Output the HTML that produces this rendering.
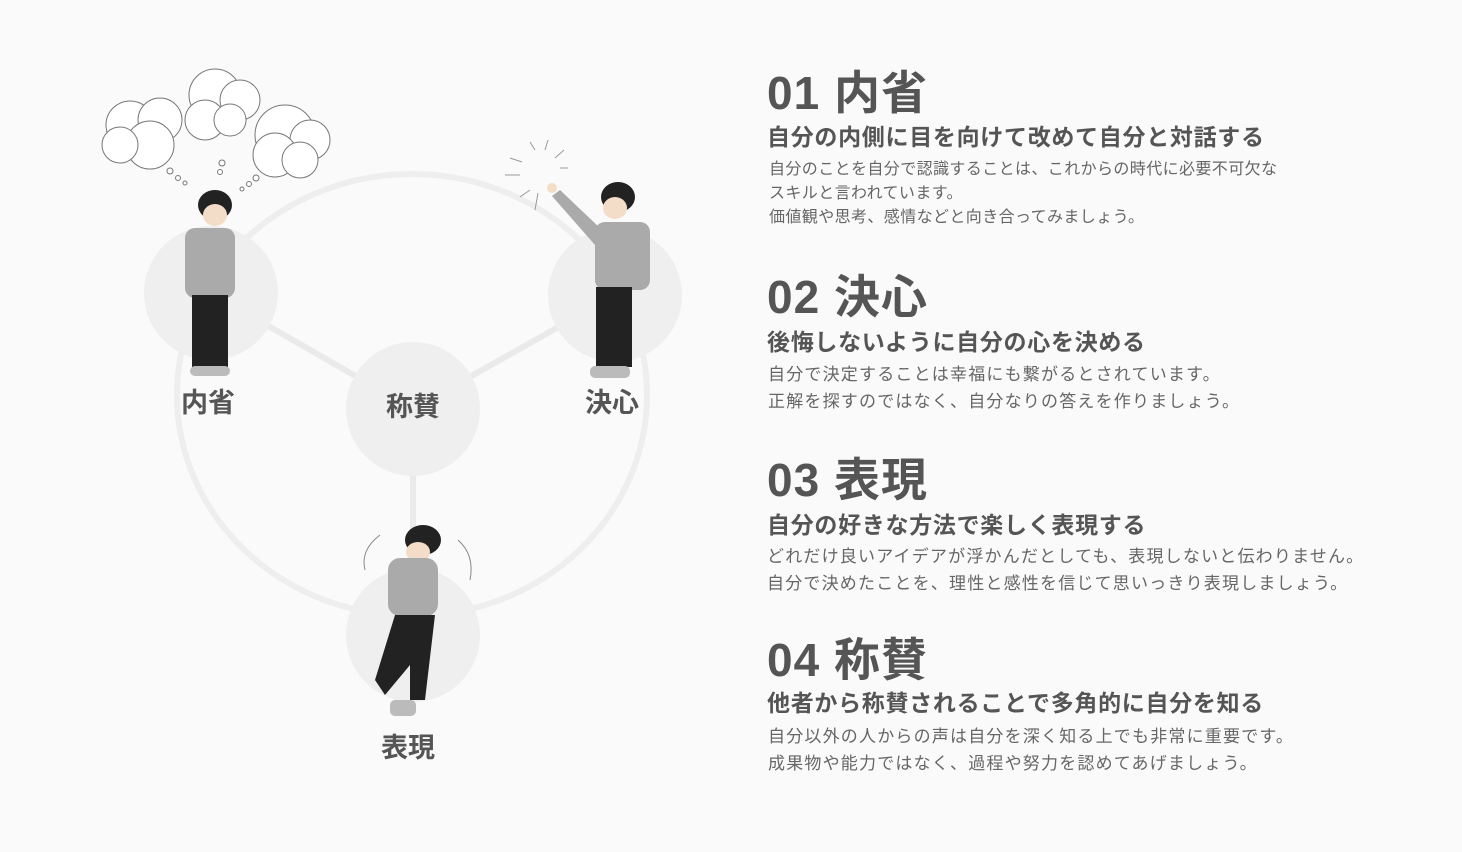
<!DOCTYPE html>
<html><head><meta charset="utf-8"><style>
body{margin:0;width:1462px;height:852px;background:#fafafa;position:relative;overflow:hidden;font-family:"Liberation Sans","Noto Sans CJK JP",sans-serif;color:#555}
.a{position:absolute;white-space:nowrap}
.t{font-size:46px;font-weight:bold;line-height:50px;letter-spacing:1px}
.s{font-size:23px;font-weight:bold;line-height:28px;letter-spacing:0.7px}
.b{font-size:16px;line-height:24px;color:#666;letter-spacing:0.4px}
.b2{font-size:17px;line-height:27px;color:#666;letter-spacing:1.2px}
.l{font-size:27px;font-weight:bold;transform:translateX(-50%);line-height:30px}
</style></head><body>
<svg class="a" style="left:0;top:0" width="720" height="852">
<ellipse cx="412" cy="395" rx="235" ry="221" fill="none" stroke="#eee" stroke-width="6"/>
<g stroke="#eaeaea" stroke-width="6"><line x1="211" y1="293" x2="413" y2="409"/><line x1="615" y1="295" x2="413" y2="409"/><line x1="413" y1="409" x2="413" y2="635"/></g>
<g fill="#efefef"><circle cx="211" cy="293" r="67"/><circle cx="615" cy="295" r="67"/><circle cx="413" cy="409" r="67"/><circle cx="413" cy="635" r="67"/></g>
<g fill="#fff" stroke="#777" stroke-width="1">
<circle cx="130" cy="125" r="24"/><circle cx="160" cy="120" r="22"/><circle cx="150" cy="145" r="24"/><circle cx="120" cy="145" r="18"/>
<circle cx="215" cy="95" r="26"/><circle cx="240" cy="100" r="20"/><circle cx="205" cy="120" r="20"/><circle cx="230" cy="120" r="16"/>
<circle cx="285" cy="135" r="30"/><circle cx="310" cy="140" r="20"/><circle cx="275" cy="155" r="22"/><circle cx="300" cy="160" r="18"/>
<circle cx="170" cy="171" r="3"/><circle cx="178" cy="178" r="2.5"/><circle cx="185" cy="183" r="2"/><circle cx="222" cy="163" r="3"/><circle cx="220" cy="172" r="2.5"/><circle cx="256" cy="178" r="3"/><circle cx="249" cy="184" r="2.5"/><circle cx="242" cy="189" r="2"/>
</g>
<g stroke="#999" stroke-width="1"><line x1="545" y1="150" x2="548" y2="140"/><line x1="555" y1="158" x2="564" y2="150"/><line x1="535" y1="150" x2="530" y2="142"/><line x1="522" y1="162" x2="510" y2="158"/><line x1="520" y1="175" x2="505" y2="175"/><line x1="530" y1="190" x2="520" y2="197"/><line x1="538" y1="193" x2="535" y2="210"/><line x1="560" y1="168" x2="568" y2="168"/></g>
<g><ellipse cx="215" cy="205" rx="17" ry="15" fill="#222"/><ellipse cx="215" cy="215" rx="12" ry="11" fill="#f3ddc8"/><rect x="185" y="228" width="50" height="70" rx="10" fill="#aaa"/><rect x="192" y="295" width="36" height="72" fill="#222"/><rect x="190" y="366" width="40" height="10" rx="5" fill="#bbb"/></g>
<g><ellipse cx="618" cy="197" rx="17" ry="15" fill="#222"/><ellipse cx="615" cy="208" rx="12" ry="11" fill="#f3ddc8"/><rect x="595" y="222" width="55" height="68" rx="10" fill="#aaa"/><polygon points="600,228 560,190 552,196 595,245" fill="#aaa"/><circle cx="552" cy="188" r="5" fill="#f3ddc8"/><rect x="596" y="287" width="36" height="80" fill="#222"/><rect x="590" y="366" width="40" height="12" rx="5" fill="#bbb"/></g>
<g><ellipse cx="423" cy="540" rx="18" ry="15" fill="#222"/><ellipse cx="418" cy="552" rx="12" ry="10" fill="#f3ddc8"/><rect x="388" y="558" width="50" height="58" rx="12" fill="#aaa"/><polygon points="395,615 435,615 425,700 410,700 410,665 385,695 375,680" fill="#222"/><rect x="390" y="700" width="26" height="16" rx="5" fill="#bbb"/>
<g fill="none" stroke="#888"><path d="M365 570 Q360 550 380 535"/><path d="M470 580 Q475 555 458 540"/></g></g>
</svg>
<div class="a l" style="left:208px;top:388px">内省</div>
<div class="a l" style="left:413px;top:392px">称賛</div>
<div class="a l" style="left:612px;top:388px">決心</div>
<div class="a l" style="left:408px;top:733px">表現</div>

<div class="a t" style="left:767px;top:68px">01 内省</div>
<div class="a s" style="left:767px;top:123px">自分の内側に目を向けて改めて自分と対話する</div>
<div class="a b" style="left:769px;top:158px">自分のことを自分で認識することは、これからの時代に必要不可欠な<br>スキルと言われています。<br>価値観や思考、感情などと向き合ってみましょう。</div>

<div class="a t" style="left:767px;top:272px">02 決心</div>
<div class="a s" style="left:767px;top:328px">後悔しないように自分の心を決める</div>
<div class="a b2" style="left:768px;top:361px">自分で決定することは幸福にも繋がるとされています。<br>正解を探すのではなく、自分なりの答えを作りましょう。</div>

<div class="a t" style="left:767px;top:455px">03 表現</div>
<div class="a s" style="left:767px;top:511px">自分の好きな方法で楽しく表現する</div>
<div class="a b2" style="left:767px;top:543px">どれだけ良いアイデアが浮かんだとしても、表現しないと伝わりません。<br>自分で決めたことを、理性と感性を信じて思いっきり表現しましょう。</div>

<div class="a t" style="left:767px;top:635px">04 称賛</div>
<div class="a s" style="left:767px;top:689px">他者から称賛されることで多角的に自分を知る</div>
<div class="a b2" style="left:768px;top:723px">自分以外の人からの声は自分を深く知る上でも非常に重要です。<br>成果物や能力ではなく、過程や努力を認めてあげましょう。</div>
</body></html>
